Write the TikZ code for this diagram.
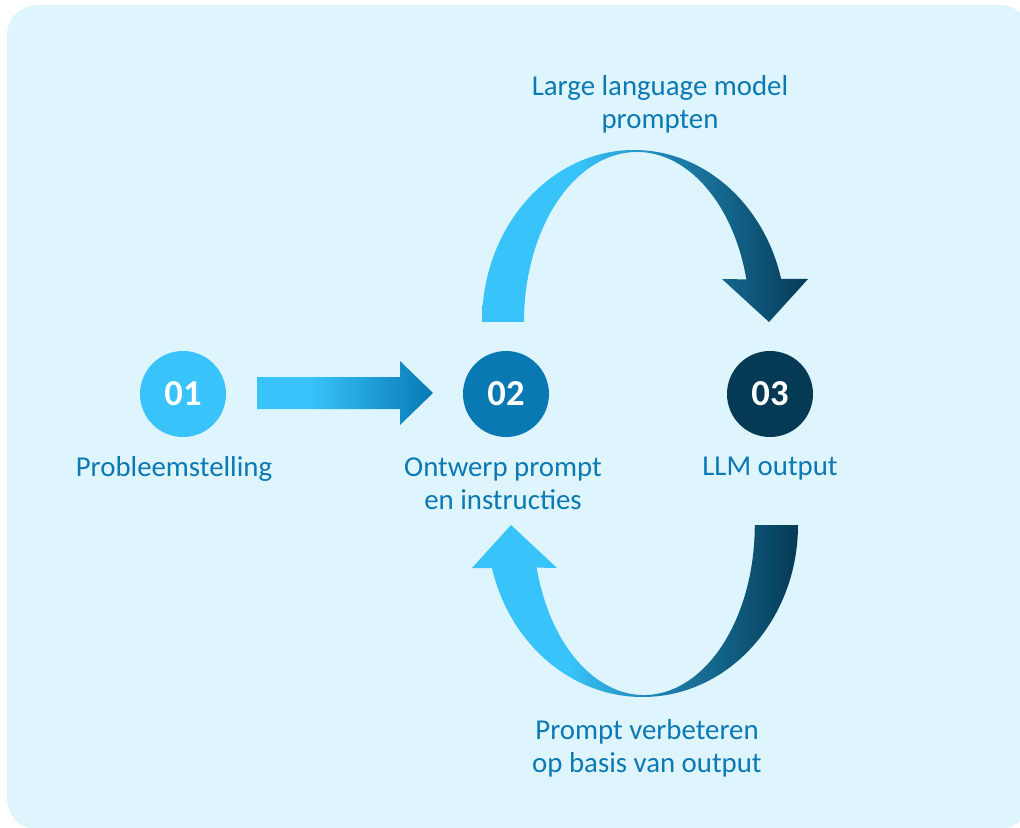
\documentclass[tikz,border=0pt]{standalone}
\usepackage{fontspec}
\setmainfont{Carlito}
\usepackage{tikz}
\usetikzlibrary{positioning}

\definecolor{bgblue}{HTML}{DFF5FD}
\definecolor{lightblue}{HTML}{38C3FA}
\definecolor{midblue}{HTML}{2088B8}
\definecolor{darkblue}{HTML}{053A55}
\definecolor{stepblue}{HTML}{0879B3}
\definecolor{textblue}{HTML}{0B79B4}

\pgfdeclarehorizontalshading{loopshade}{100bp}{color(0bp)=(lightblue); color(40bp)=(lightblue); color(52bp)=(midblue); color(75bp)=(darkblue); color(100bp)=(darkblue)}
\pgfdeclarehorizontalshading{flatshade}{100bp}{color(0bp)=(lightblue); color(40bp)=(lightblue); color(75bp)=(stepblue); color(100bp)=(stepblue)}

\tikzset{
  stepcircle/.style={circle, minimum size=2.15cm, inner sep=0pt, text=white,
    font=\fontsize{26}{30}\selectfont\bfseries},
  steplabel/.style={text=textblue, align=center,
    font=\fontsize{20.5}{23.4}\selectfont},
  loopfill/.style={shading=loopshade},
  flatfill/.style={shading=flatshade}
}

\begin{document}
\begin{tikzpicture}[x=0.025cm, y=-0.025cm]

    \useasboundingbox (0,0) rectangle (1020,828);
    \clip (0,0) rectangle (1020,828);
    \fill[bgblue, rounded corners=0.75cm] (7,5) rectangle (1030,829);

    % steps
    \node[stepcircle, fill=lightblue] (n1) at (183,394) {01};
    \node[stepcircle, fill=stepblue] (n2) at (506,394) {02};
    \node[stepcircle, fill=darkblue] (n3) at (770,394) {03};

    \node[steplabel] (l1) at (174,469) {Probleemstelling};
    \node[steplabel] (l2) at (503,484) {Ontwerp prompt\\en instructies};
    \node[steplabel] (l3) at (770,469) {LLM output};

    \node[steplabel] (top) at (660,104) {Large language model\\prompten};
    \node[steplabel] (bottom) at (647,748) {Prompt verbeteren\\op basis van output};

    % straight arrow 01 -> 02
    \path[flatfill] (257,377) -- (400,377) -- (400,361) -- (433,393)
        -- (400,425) -- (400,409) -- (257,409) -- cycle;

    % loop 02 -> 03
    \path[loopfill] (482,322)
        arc[start angle=180, end angle=345.5, x radius=152, y radius=172]
        -- (808,279) -- (769,322) -- (722,279) -- (746.4,279.4)
        arc[start angle=345.5, end angle=180, x radius=113, y radius=170]
        -- cycle;

    % loop 03 -> 02
    \path[loopfill] (798,525)
        arc[start angle=0, end angle=165.5, x radius=155.5, y radius=172]
        -- (472,568) -- (511,525) -- (557,568) -- (536.7,567.6)
        arc[start angle=165.5, end angle=0, x radius=110.8, y radius=170]
        -- cycle;

\end{tikzpicture}
\end{document}
